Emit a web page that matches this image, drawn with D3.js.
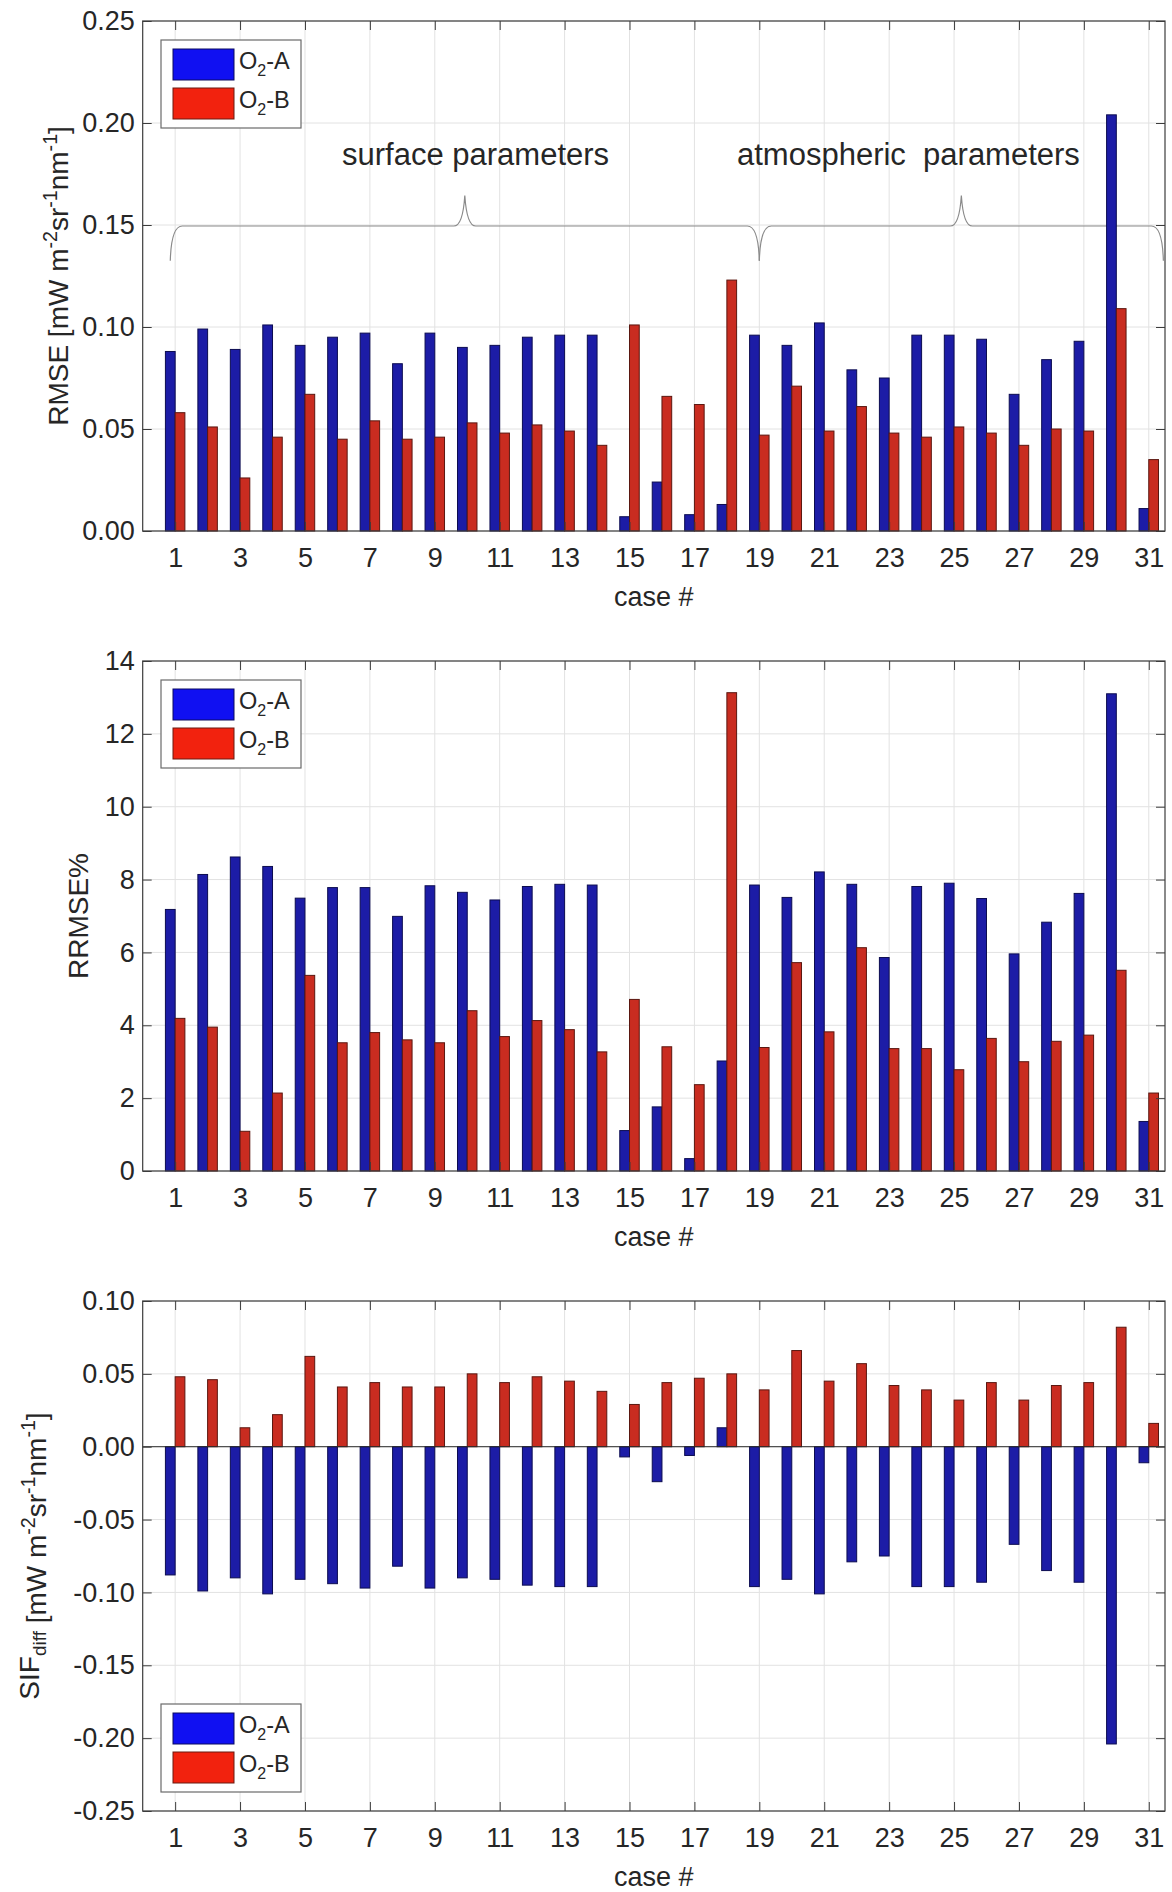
<!DOCTYPE html>
<html>
<head>
<meta charset="utf-8">
<script src="https://cdn.jsdelivr.net/npm/d3@7"></script>
<style>
  html, body { margin: 0; padding: 0; background: #fff; }
  svg { display: block; }
  text { font-family: "Liberation Sans", Arial, Helvetica, sans-serif; fill: #262626; }
</style>
</head>
<body>
<svg id="fig" width="1172" height="1892"></svg>
<script>
// ---- data -------------------------------------------------------------
const cases = [1,2,3,4,5,6,7,8,9,10,11,12,13,14,15,16,17,18,19,20,21,22,23,24,25,26,27,28,29,30,31];
const caseTicks = [1,3,5,7,9,11,13,15,17,19,21,23,25,27,29,31];

// RMSE [mW m-2 sr-1 nm-1]
const rmseA = [0.088,0.099,0.089,0.101,0.091,0.095,0.097,0.082,0.097,0.090,0.091,0.095,0.096,0.096,0.007,0.024,0.008,0.013,0.096,0.091,0.102,0.079,0.075,0.096,0.096,0.094,0.067,0.084,0.093,0.204,0.011];
const rmseB = [0.058,0.051,0.026,0.046,0.067,0.045,0.054,0.045,0.046,0.053,0.048,0.052,0.049,0.042,0.101,0.066,0.062,0.123,0.047,0.071,0.049,0.061,0.048,0.046,0.051,0.048,0.042,0.050,0.049,0.109,0.035];

// RRMSE %
const rrmseA = [7.18,8.14,8.62,8.36,7.49,7.78,7.78,6.99,7.83,7.65,7.44,7.81,7.87,7.85,1.11,1.76,0.34,3.02,7.85,7.51,8.21,7.87,5.86,7.81,7.90,7.48,5.96,6.83,7.62,13.10,1.36];
const rrmseB = [4.19,3.95,1.09,2.14,5.37,3.52,3.80,3.60,3.52,4.40,3.69,4.13,3.88,3.27,4.71,3.41,2.37,13.13,3.39,5.72,3.82,6.13,3.36,3.36,2.78,3.64,3.00,3.56,3.73,5.51,2.14];

// SIF difference [mW m-2 sr-1 nm-1]
const sifA = [-0.088,-0.099,-0.090,-0.101,-0.091,-0.094,-0.097,-0.082,-0.097,-0.090,-0.091,-0.095,-0.096,-0.096,-0.007,-0.024,-0.006,0.013,-0.096,-0.091,-0.101,-0.079,-0.075,-0.096,-0.096,-0.093,-0.067,-0.085,-0.093,-0.204,-0.011];
const sifB = [0.048,0.046,0.013,0.022,0.062,0.041,0.044,0.041,0.041,0.050,0.044,0.048,0.045,0.038,0.029,0.044,0.047,0.050,0.039,0.066,0.045,0.057,0.042,0.039,0.032,0.044,0.032,0.042,0.044,0.082,0.016];

const rmseTicks = [0, 0.05, 0.10, 0.15, 0.20, 0.25];
const rrmseTicks = [0, 2, 4, 6, 8, 10, 12, 14];
const sifTicks = [-0.25, -0.20, -0.15, -0.10, -0.05, 0, 0.05, 0.10];

// parameter groups marked with braces above the RMSE bars: [from case, to case]
const groups = [
  { name: "surface parameters", from: 0.85, to: 19 },
  { name: "atmospheric  parameters", from: 19, to: 31.45 }
];

// ---- layout ------------------------------------------------------------
const svg = d3.select("#fig");
const L = 142.7, R = 1165;
const x = d3.scaleLinear().domain([0, 31.5]).range([L, R]);
const barW = 0.3;                       // bar width in case units
const fillA = "#1c1ca6", fillB = "#c92c20";
const edgeA = "#0c0c50", edgeB = "#5a1710";
const axisColor = "#3c3c3c", gridColor = "#e2e2e2";
const fmt2 = d => d3.format(".2f")(d).replace("\u2212", "-");

const panels = [
  { top: 21,   bottom: 531,  domain: [0, 0.25],     ticks: rmseTicks,  fmt: fmt2,           a: rmseA,  b: rmseB,  legend: "top",    labelX: 68 },
  { top: 661,  bottom: 1171, domain: [0, 14],       ticks: rrmseTicks, fmt: d3.format("d"), a: rrmseA, b: rrmseB, legend: "top",    labelX: 88 },
  { top: 1301, bottom: 1811, domain: [-0.25, 0.10], ticks: sifTicks,   fmt: fmt2,           a: sifA,   b: sifB,   legend: "bottom", labelX: 39 }
];

function unitLabel(t, size) {
  // " [mW m^-2 sr^-1 nm^-1]"
  const s = size * 0.7, up = -size * 0.38;
  t.append("tspan").text(" [mW m");
  t.append("tspan").attr("dy", up).attr("font-size", s).text("-2");
  t.append("tspan").attr("dy", -up).text("sr");
  t.append("tspan").attr("dy", up).attr("font-size", s).text("-1");
  t.append("tspan").attr("dy", -up).text("nm");
  t.append("tspan").attr("dy", up).attr("font-size", s).text("-1");
  t.append("tspan").attr("dy", -up).text("]");
}

function drawLegend(g, x0, y0) {
  const lg = g.append("g").attr("transform", `translate(${x0},${y0})`);
  lg.append("rect").attr("width", 140).attr("height", 88)
    .attr("fill", "#fff").attr("stroke", "#6a6a6a").attr("stroke-width", 1.2);
  const items = [{ c: "#1010f2", e: "#0a0a60", t: "A" }, { c: "#f2220e", e: "#6a1a10", t: "B" }];
  items.forEach((it, i) => {
    lg.append("rect").attr("x", 12).attr("y", 9 + i * 39).attr("width", 61).attr("height", 31)
      .attr("fill", it.c).attr("stroke", it.e).attr("stroke-width", 1);
    const t = lg.append("text").attr("x", 78).attr("y", 29 + i * 39).attr("font-size", 23.5);
    t.append("tspan").text("O");
    t.append("tspan").attr("dy", 7).attr("font-size", 16).text("2");
    t.append("tspan").attr("dy", -7).text("-" + it.t);
  });
}

panels.forEach((p, pi) => {
  const y = d3.scaleLinear().domain(p.domain).range([p.bottom, p.top]);
  const g = svg.append("g");

  // grid
  g.append("g").selectAll("line").data(caseTicks).join("line")
    .attr("x1", d => x(d)).attr("x2", d => x(d)).attr("y1", p.top).attr("y2", p.bottom)
    .attr("stroke", gridColor).attr("stroke-width", 1);
  g.append("g").selectAll("line").data(p.ticks).join("line")
    .attr("x1", L).attr("x2", R).attr("y1", d => y(d)).attr("y2", d => y(d))
    .attr("stroke", gridColor).attr("stroke-width", 1);

  // braces and group names over the RMSE panel
  if (pi === 0) {
    const y0 = y(0.1495), yEnd = y(0.1325), yTip = y(0.1645);
    groups.forEach(gr => {
      const x1 = x(gr.from), x2 = x(gr.to), xm = (x1 + x2) / 2;
      const path = `M${x1},${yEnd} Q${x1 + 1},${y0} ${x1 + 12},${y0} L${xm - 11},${y0} ` +
                   `Q${xm - 2},${y0} ${xm},${yTip} Q${xm + 2},${y0} ${xm + 11},${y0} ` +
                   `L${x2 - 12},${y0} Q${x2 - 1},${y0} ${x2},${yEnd}`;
      g.append("path").attr("d", path).attr("fill", "none")
        .attr("stroke", "#8a8a8a").attr("stroke-width", 1.2);
    });
    g.append("text").attr("x", 342).attr("y", y(0.1795)).attr("font-size", 31)
      .text(groups[0].name);
    g.append("text").attr("x", 737).attr("y", y(0.1795)).attr("font-size", 31)
      .style("white-space", "pre").text(groups[1].name);
  }

  // bars
  const rows = cases.map((c, i) => ({ c, a: p.a[i], b: p.b[i] }));
  const yTop = v => y(Math.max(0, v)), yH = v => Math.abs(y(v) - y(0));
  g.append("g").selectAll("rect").data(rows).join("rect")
    .attr("x", d => x(d.c - barW)).attr("width", d => x(d.c) - x(d.c - barW))
    .attr("y", d => yTop(d.a)).attr("height", d => yH(d.a))
    .attr("fill", fillA).attr("stroke", edgeA).attr("stroke-width", 1);
  g.append("g").selectAll("rect").data(rows).join("rect")
    .attr("x", d => x(d.c)).attr("width", d => x(d.c + barW) - x(d.c))
    .attr("y", d => yTop(d.b)).attr("height", d => yH(d.b))
    .attr("fill", fillB).attr("stroke", edgeB).attr("stroke-width", 1);

  // bar baseline
  if (p.domain[0] < 0) {
    g.append("line").attr("x1", L).attr("x2", R).attr("y1", y(0)).attr("y2", y(0))
      .attr("stroke", "#2a2a2a").attr("stroke-width", 1);
  }

  // axes (ticks point inward on all four sides)
  const style = a => {
    a.select(".domain").remove();
    a.attr("color", axisColor).attr("font-size", 27)
      .attr("font-family", '"Liberation Sans", Arial, Helvetica, sans-serif');
    a.selectAll(".tick text").attr("fill", "#262626");
  };
  g.append("g").attr("transform", `translate(0,${p.bottom})`)
    .call(d3.axisBottom(x).tickValues(caseTicks).tickSize(-9).tickPadding(17).tickFormat(d3.format("d")))
    .call(style);
  g.append("g").attr("transform", `translate(0,${p.top})`)
    .call(d3.axisTop(x).tickValues(caseTicks).tickSize(-9).tickFormat(""))
    .call(style);
  g.append("g").attr("transform", `translate(${L},0)`)
    .call(d3.axisLeft(y).tickValues(p.ticks).tickSize(-9).tickPadding(8).tickFormat(p.fmt))
    .call(style);
  g.append("g").attr("transform", `translate(${R},0)`)
    .call(d3.axisRight(y).tickValues(p.ticks).tickSize(-9).tickFormat(""))
    .call(style);
  g.append("rect").attr("x", L).attr("y", p.top).attr("width", R - L).attr("height", p.bottom - p.top)
    .attr("fill", "none").attr("stroke", axisColor).attr("stroke-width", 1.2);

  // x label
  g.append("text").attr("x", (L + R) / 2).attr("y", p.bottom + 75).attr("text-anchor", "middle")
    .attr("font-size", 27).text("case #");

  // y label
  const cy = (p.top + p.bottom) / 2;
  const yl = g.append("text").attr("transform", `translate(${p.labelX},${cy}) rotate(-90)`)
    .attr("text-anchor", "middle").attr("font-size", 28);
  if (pi === 0) { yl.append("tspan").text("RMSE"); unitLabel(yl, 28); }
  else if (pi === 1) { yl.text("RRMSE%"); }
  else {
    yl.append("tspan").text("SIF");
    yl.append("tspan").attr("dy", 7).attr("font-size", 19).text("diff");
    yl.append("tspan").attr("dy", -7).text("");
    unitLabel(yl, 28);
  }

  // legend
  if (p.legend === "top") drawLegend(g, 161, p.top + 19);
  else drawLegend(g, 161, p.bottom - 107);
});
</script>
</body>
</html>
